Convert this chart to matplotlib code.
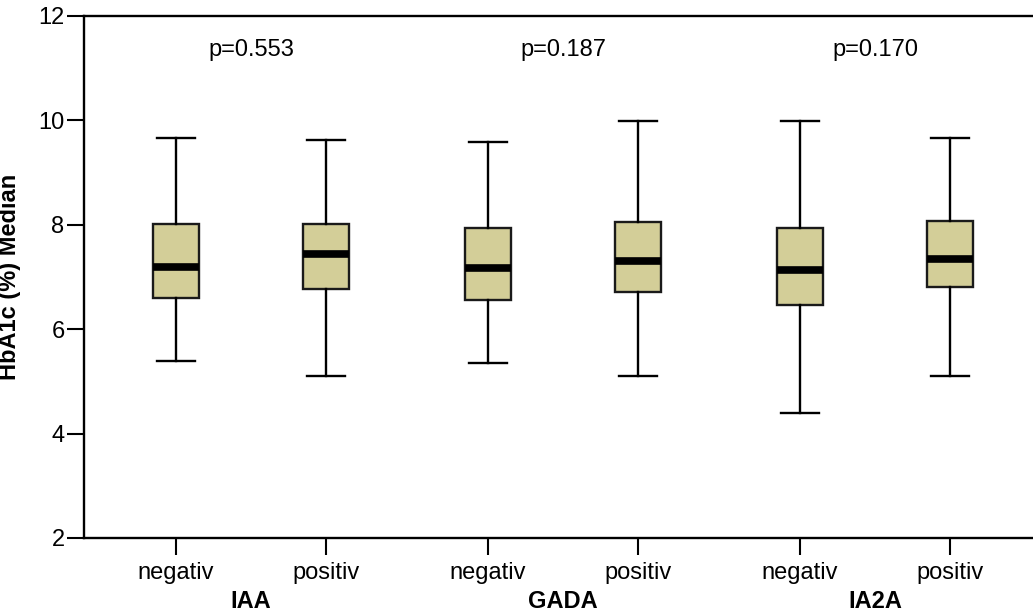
import matplotlib
matplotlib.use("Agg")
import matplotlib.pyplot as plt
import matplotlib.transforms as mtransforms

plt.rcParams['font.family'] = ['Liberation Sans', 'DejaVu Sans']

groups = ["IAA", "GADA", "IA2A"]
subcats = ["negativ", "positiv"]
p_values = ["p=0.553", "p=0.187", "p=0.170"]

# order: IAA neg, IAA pos, GADA neg, GADA pos, IA2A neg, IA2A pos
whisker_low = [5.40, 5.10, 5.35, 5.10, 4.40, 5.10]
q1 = [6.60, 6.77, 6.55, 6.71, 6.46, 6.81]
median = [7.20, 7.44, 7.17, 7.30, 7.13, 7.35]
q3 = [8.01, 8.02, 7.94, 8.05, 7.94, 8.07]
whisker_high = [9.67, 9.62, 9.59, 9.99, 9.99, 9.66]

y_ticks = [2, 4, 6, 8, 10, 12]

fig = plt.figure(figsize=(10.33, 6.14), dpi=100)
ax = fig.add_axes([84 / 1033, 76 / 614, 949 / 1033, 522 / 614])

group_gap = 2.08
positions = []
tick_labels = []
for gi, g in enumerate(groups):
    for si, s in enumerate(subcats):
        positions.append(gi * group_gap + (si - 0.5))
        tick_labels.append(s)

stats = []
for i in range(len(positions)):
    stats.append(dict(whislo=whisker_low[i], q1=q1[i], med=median[i],
                      q3=q3[i], whishi=whisker_high[i], fliers=[]))

ax.bxp(stats, positions=positions, widths=0.305, patch_artist=True,
       showfliers=False, manage_ticks=False,
       boxprops=dict(facecolor='#D3CE98', edgecolor='#1a1a1a', linewidth=1.7),
       medianprops=dict(color='black', linewidth=5.5, solid_capstyle='butt'),
       whiskerprops=dict(color='black', linewidth=1.7),
       capprops=dict(color='black', linewidth=1.7),
       capwidths=0.25)

ax.set_xlim((84 - 251) / 150, (1033 - 251) / 150)
ax.set_ylim(2, 12)
ax.set_yticks(y_ticks)
ax.set_xticks(positions)
ax.set_xticklabels(tick_labels)

for side in ['left', 'bottom', 'top']:
    ax.spines[side].set_linewidth(1.7)
    ax.spines[side].set_color('black')
ax.spines['right'].set_visible(False)

ax.tick_params(axis='both', length=12, width=1.5, labelsize=17, colors='black')
ax.tick_params(axis='y', pad=2)
ax.tick_params(axis='x', pad=5)

ax.set_ylabel("HbA1c (%) Median", fontsize=17, fontweight='bold')
ax.yaxis.set_label_coords(-0.066, 0.5)

trans = mtransforms.blended_transform_factory(ax.transData, ax.transAxes)
for gi, g in enumerate(groups):
    center = gi * group_gap
    ax.text(center, -0.134, g, transform=trans, ha='center', va='baseline',
            fontsize=17, fontweight='bold')
    ax.text(center, 0.935, p_values[gi], transform=trans, ha='center',
            va='center', fontsize=17)

fig.savefig("out.png", dpi=100)
